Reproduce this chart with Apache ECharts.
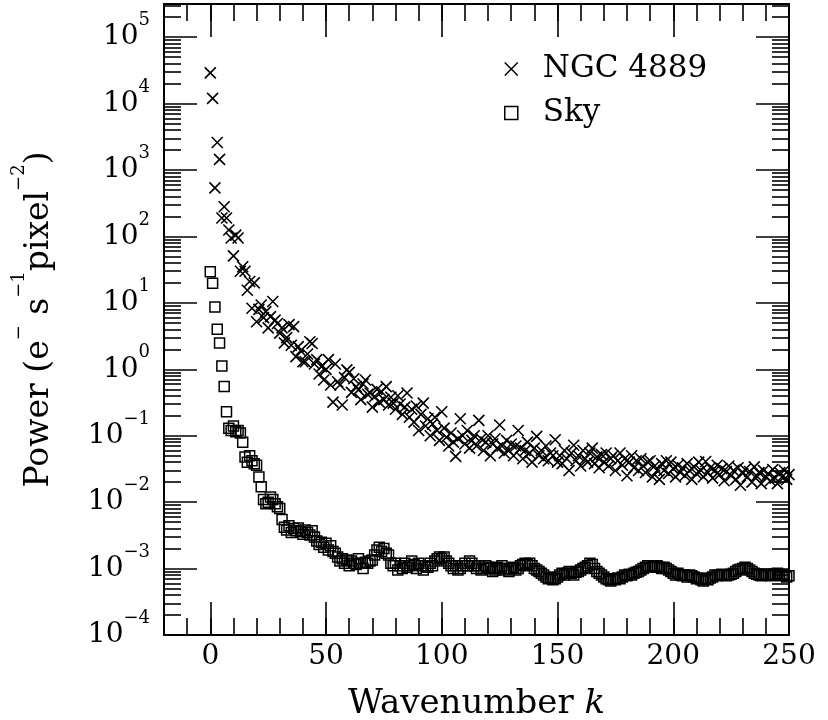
<!DOCTYPE html>
<html>
<head>
<meta charset="utf-8">
<script src="https://cdn.jsdelivr.net/npm/echarts@6/dist/echarts.min.js"></script>
<style>html,body{margin:0;padding:0;background:#fff}#chart{width:828px;height:720px}</style>
</head>
<body>
<div id="chart"></div>
<script>
// ---------------- data ----------------
const seriesNames = ['NGC 4889', 'Sky'];

const wavenumber = [
  0,1,2,3,4,5,6,7,8,9,
  10,11,12,13,14,15,16,17,18,19,
  20,21,22,23,24,25,26,27,28,29,
  30,31,32,33,34,35,36,37,38,39,
  40,41,42,43,44,45,46,47,48,49,
  50,51,52,53,54,55,56,57,58,59,
  60,61,62,63,64,65,66,67,68,69,
  70,71,72,73,74,75,76,77,78,79,
  80,81,82,83,84,85,86,87,88,89,
  90,91,92,93,94,95,96,97,98,99,
  100,101,102,103,104,105,106,107,108,109,
  110,111,112,113,114,115,116,117,118,119,
  120,121,122,123,124,125,126,127,128,129,
  130,131,132,133,134,135,136,137,138,139,
  140,141,142,143,144,145,146,147,148,149,
  150,151,152,153,154,155,156,157,158,159,
  160,161,162,163,164,165,166,167,168,169,
  170,171,172,173,174,175,176,177,178,179,
  180,181,182,183,184,185,186,187,188,189,
  190,191,192,193,194,195,196,197,198,199,
  200,201,202,203,204,205,206,207,208,209,
  210,211,212,213,214,215,216,217,218,219,
  220,221,222,223,224,225,226,227,228,229,
  230,231,232,233,234,235,236,237,238,239,
  240,241,242,243,244,245,246,247,248,249,
  250
];

const ngcPower = [
  29000, 12000, 540, 2600, 1450, 190, 280, 190, 125, 95,
  51, 105, 95, 30, 35, 30, 15.5, 21, 8.3, 20,
  5.2, 8, 9.3, 6, 7.4, 4.2, 6.2, 10.5, 5.5, 4.9,
  3.5, 4.2, 2.5, 3.0, 4.7, 2.3, 4.4, 1.55, 2.2, 1.9,
  1.3, 1.3, 1.7, 2.6, 2.45, 1.2, 1.4, 0.85, 1.1, 0.69,
  1.0, 1.4, 0.58, 0.32, 1.2, 0.65, 0.58, 0.29, 0.75, 0.98,
  0.9, 0.45, 0.72, 0.55, 0.49, 0.35, 0.6, 0.69, 0.42, 0.44,
  0.27, 0.39, 0.5, 0.32, 0.46, 0.35, 0.55, 0.29, 0.38, 0.31,
  0.25, 0.4, 0.3, 0.21, 0.27, 0.44, 0.19, 0.25, 0.16, 0.28,
  0.12, 0.21, 0.31, 0.14, 0.18, 0.1, 0.15, 0.19, 0.12, 0.085,
  0.23, 0.13, 0.095, 0.07, 0.11, 0.08, 0.049, 0.09, 0.18, 0.1,
  0.075, 0.12, 0.065, 0.085, 0.1, 0.07, 0.17, 0.09, 0.06, 0.08,
  0.1, 0.05, 0.075, 0.09, 0.065, 0.145, 0.07, 0.055, 0.085, 0.06,
  0.075, 0.05, 0.07, 0.12, 0.065, 0.045, 0.06, 0.08, 0.055, 0.04,
  0.065, 0.098, 0.05, 0.06, 0.045, 0.07, 0.042, 0.055, 0.05, 0.087,
  0.04, 0.05, 0.038, 0.06, 0.045, 0.03, 0.055, 0.072, 0.042, 0.05,
  0.035, 0.06, 0.045, 0.04, 0.055, 0.065, 0.038, 0.048, 0.033, 0.052,
  0.04, 0.055, 0.035, 0.045, 0.05, 0.03, 0.042, 0.055, 0.036, 0.045,
  0.025, 0.04, 0.05, 0.033, 0.042, 0.03, 0.045, 0.035, 0.028, 0.04,
  0.042, 0.024, 0.035, 0.03, 0.022, 0.038, 0.03, 0.042, 0.027, 0.04,
  0.032, 0.024, 0.036, 0.028, 0.033, 0.025, 0.038, 0.03, 0.022, 0.034,
  0.027, 0.04, 0.03, 0.024, 0.041, 0.028, 0.033, 0.023, 0.03, 0.036,
  0.026, 0.032, 0.021, 0.029, 0.035, 0.025, 0.03, 0.022, 0.033, 0.018,
  0.027, 0.031, 0.024, 0.029, 0.02, 0.034, 0.025, 0.028, 0.019, 0.03,
  0.024, 0.027, 0.021, 0.031, 0.023, 0.019, 0.028, 0.024, 0.03, 0.022,
  0.026
];

const skyPower = [
  29.5, 19.7, 8.7, 4.0, 2.5, 1.12, 0.55, 0.23, 0.13, 0.12,
  0.14, 0.115, 0.12, 0.11, 0.08, 0.048, 0.04, 0.05, 0.042, 0.038,
  0.036, 0.024, 0.017, 0.011, 0.0095, 0.01, 0.012, 0.011, 0.0095, 0.0085,
  0.008, 0.0055, 0.0042, 0.0038, 0.0044, 0.0035, 0.004, 0.0037, 0.0041, 0.0036,
  0.0033, 0.0038, 0.0035, 0.0032, 0.0037, 0.003, 0.0026, 0.0023, 0.0025, 0.0021,
  0.0024, 0.0019, 0.0022, 0.0018, 0.0017, 0.0015, 0.0013, 0.0014, 0.0012, 0.00135,
  0.0011, 0.0013, 0.0012, 0.00115, 0.0014, 0.0012, 0.001, 0.00125, 0.0012, 0.0013,
  0.00135, 0.0016, 0.0019, 0.0021, 0.0018, 0.002, 0.0017, 0.0016, 0.0012, 0.0011,
  0.0012, 0.00095, 0.0011, 0.001, 0.0012, 0.00105, 0.0011, 0.0013, 0.00115, 0.001,
  0.0012, 0.0011, 0.00095, 0.0011, 0.00105, 0.0012, 0.0011, 0.0013, 0.0014, 0.0015,
  0.0014, 0.0015, 0.0013, 0.0012, 0.0011, 0.001, 0.0011, 0.00095, 0.001, 0.0011,
  0.0012, 0.0011, 0.0013, 0.0012, 0.0011, 0.001, 0.0011, 0.00095, 0.001, 0.0011,
  0.00105, 0.001, 0.0009, 0.00095, 0.00105, 0.001, 0.0011, 0.00095, 0.001, 0.0009,
  0.001, 0.00105, 0.00095, 0.001, 0.0011, 0.00115, 0.0012, 0.00115, 0.0012, 0.0011,
  0.001, 0.00095, 0.0009, 0.00085, 0.0008, 0.00075, 0.0007, 0.00072, 0.00068, 0.0007,
  0.00075, 0.0008, 0.00085, 0.0008, 0.00085, 0.0009, 0.00085, 0.0008, 0.00088, 0.0009,
  0.00095, 0.001, 0.00105, 0.0011, 0.0012, 0.00115, 0.001, 0.0009, 0.00085, 0.0008,
  0.00075, 0.0007, 0.00068, 0.00065, 0.0007, 0.00068, 0.00072, 0.0007, 0.00075, 0.0008,
  0.00078, 0.00082, 0.0008, 0.00085, 0.00088, 0.0009, 0.00095, 0.001, 0.00105, 0.0011,
  0.00105, 0.0011, 0.00108, 0.0011, 0.00105, 0.001, 0.00105, 0.001, 0.00095, 0.0009,
  0.00085, 0.0008, 0.00085, 0.0008, 0.00078, 0.0008, 0.00075, 0.0008, 0.00078, 0.00075,
  0.0007, 0.00072, 0.00068, 0.00065, 0.0007, 0.00068, 0.00072, 0.00075, 0.0008, 0.00078,
  0.0008, 0.00082, 0.0008, 0.00078, 0.0008, 0.00082, 0.00085, 0.0009, 0.00095, 0.00098,
  0.001, 0.00105, 0.001, 0.00095, 0.0009, 0.00085, 0.00082, 0.0008, 0.00078, 0.0008,
  0.00082, 0.0008, 0.00078, 0.0008, 0.00082, 0.00085, 0.0008, 0.00078, 0.0008, 0.00075,
  0.00078
];

const xMajorTicks = [0, 50, 100, 150, 200, 250];
const yDecades = [-4, -3, -2, -1, 0, 1, 2, 3, 4, 5];
const minorMantissas = [2, 3, 4, 5, 6, 7, 8, 9];
const xRange = [-20, 250];
const yRange = [-4, 5.5]; // log10 of power

// ---------------- chart ----------------
const F = 'DejaVu Serif';
const INK = '#000';
const crossPath = 'path://M0,0L10,10M10,0L0,10';

const ngcData = wavenumber.map((x, i) => [x, Math.log10(ngcPower[i])]);
const skyData = wavenumber.map((x, i) => [x, Math.log10(skyPower[i])]);

const yMinorTicks = [];
yDecades.forEach(d => minorMantissas.forEach(m => {
  const v = d + Math.log10(m);
  if (v <= yRange[1]) yMinorTicks.push(v);
}));

const fmtExp = n => (n < 0 ? '\u2212' + Math.abs(n) : String(n));

const baseX = {
  type: 'value', min: xRange[0], max: xRange[1], gridIndex: 0,
  splitLine: { show: false }
};
const baseY = {
  type: 'value', min: yRange[0], max: yRange[1], gridIndex: 0,
  splitLine: { show: false }
};
const line = { show: true, onZero: false, lineStyle: { color: INK, width: 2 } };
const noLine = { show: false, onZero: false };
const majTick = len => ({ show: true, inside: true, length: len, lineStyle: { color: INK, width: 1.6 } });

const option = {
  backgroundColor: '#fff',
  animation: false,
  grid: { left: 164, right: 39, top: 4, bottom: 85, containLabel: false, outerBoundsMode: 'none' },
  xAxis: [
    Object.assign({}, baseX, {
      position: 'bottom',
      axisLine: line,
      axisTick: Object.assign(majTick(33), { customValues: xMajorTicks }),
      axisLabel: { customValues: xMajorTicks, fontFamily: F, fontSize: 28, color: INK, margin: 8 },
      name: 'Wavenumber {i|k}',
      nameLocation: 'middle',
      nameGap: 52,
      nameMoveOverlap: false,
      nameTextStyle: {
        fontFamily: F, fontSize: 34, color: INK,
        rich: { i: { fontFamily: F, fontSize: 34, fontStyle: 'italic', color: INK } }
      }
    }),
    Object.assign({}, baseX, {
      position: 'bottom', interval: 10,
      axisLine: noLine, axisTick: majTick(17), axisLabel: { show: false }
    }),
    Object.assign({}, baseX, {
      position: 'top',
      axisLine: line,
      axisTick: Object.assign(majTick(33), { customValues: xMajorTicks }),
      axisLabel: { show: false }
    }),
    Object.assign({}, baseX, {
      position: 'top', interval: 10,
      axisLine: noLine, axisTick: majTick(17), axisLabel: { show: false }
    })
  ],
  yAxis: [
    Object.assign({}, baseY, {
      position: 'left',
      axisLine: line,
      axisTick: Object.assign(majTick(33), { customValues: yDecades }),
      axisLabel: {
        customValues: yDecades,
        margin: 14,
        formatter: v => '{b|10}{s|' + fmtExp(Math.round(v)) + '}',
        rich: {
          b: { fontFamily: F, fontSize: 28, lineHeight: 28, color: INK },
          s: { fontFamily: F, fontSize: 18, lineHeight: 18, color: INK, padding: [0, 0, 33, 0] }
        }
      },
      name: '{t|Power (e}{s|\u2212}{t| s}{s|\u22121}{t|pixel}{s|\u22122}{t|)}',
      nameLocation: 'middle',
      nameRotate: 90,
      nameGap: 108,
      nameMoveOverlap: false,
      nameTextStyle: {
        rich: {
          t: { fontFamily: F, fontSize: 33, lineHeight: 33, color: INK },
          s: { fontFamily: F, fontSize: 18, lineHeight: 18, color: INK, padding: [0, 0, 40, 0] }
        }
      }
    }),
    Object.assign({}, baseY, {
      position: 'left',
      axisLine: noLine,
      axisTick: Object.assign(majTick(17), { customValues: yMinorTicks }),
      axisLabel: { show: false }
    }),
    Object.assign({}, baseY, {
      position: 'right',
      axisLine: line,
      axisTick: Object.assign(majTick(33), { customValues: yDecades }),
      axisLabel: { show: false }
    }),
    Object.assign({}, baseY, {
      position: 'right',
      axisLine: noLine,
      axisTick: Object.assign(majTick(17), { customValues: yMinorTicks }),
      axisLabel: { show: false }
    })
  ],
  legend: {
    orient: 'vertical',
    left: 499, top: 48,
    itemWidth: 13, itemHeight: 13, itemGap: 12,
    selectedMode: false,
    data: [
      { name: seriesNames[0], icon: crossPath },
      { name: seriesNames[1], icon: 'rect' }
    ],
    itemStyle: { color: 'rgba(0,0,0,0)', borderColor: INK, borderWidth: 1.5 },
    textStyle: { fontFamily: F, fontSize: 31, lineHeight: 32, color: INK, padding: [0, 0, 0, 20] }
  },
  series: [
    {
      name: seriesNames[0], type: 'scatter', xAxisIndex: 0, yAxisIndex: 0,
      symbol: crossPath, symbolSize: 11,
      itemStyle: { color: 'rgba(0,0,0,0)', borderColor: INK, borderWidth: 1.6, opacity: 1 },
      emphasis: { disabled: true },
      data: ngcData
    },
    {
      name: seriesNames[1], type: 'scatter', xAxisIndex: 0, yAxisIndex: 0,
      symbol: 'rect', symbolSize: 10,
      itemStyle: { color: 'rgba(0,0,0,0)', borderColor: INK, borderWidth: 1.5, opacity: 1 },
      emphasis: { disabled: true },
      data: skyData
    }
  ]
};

const chart = echarts.init(document.getElementById('chart'), null, { renderer: 'canvas' });
chart.setOption(option);
</script>
</body>
</html>
